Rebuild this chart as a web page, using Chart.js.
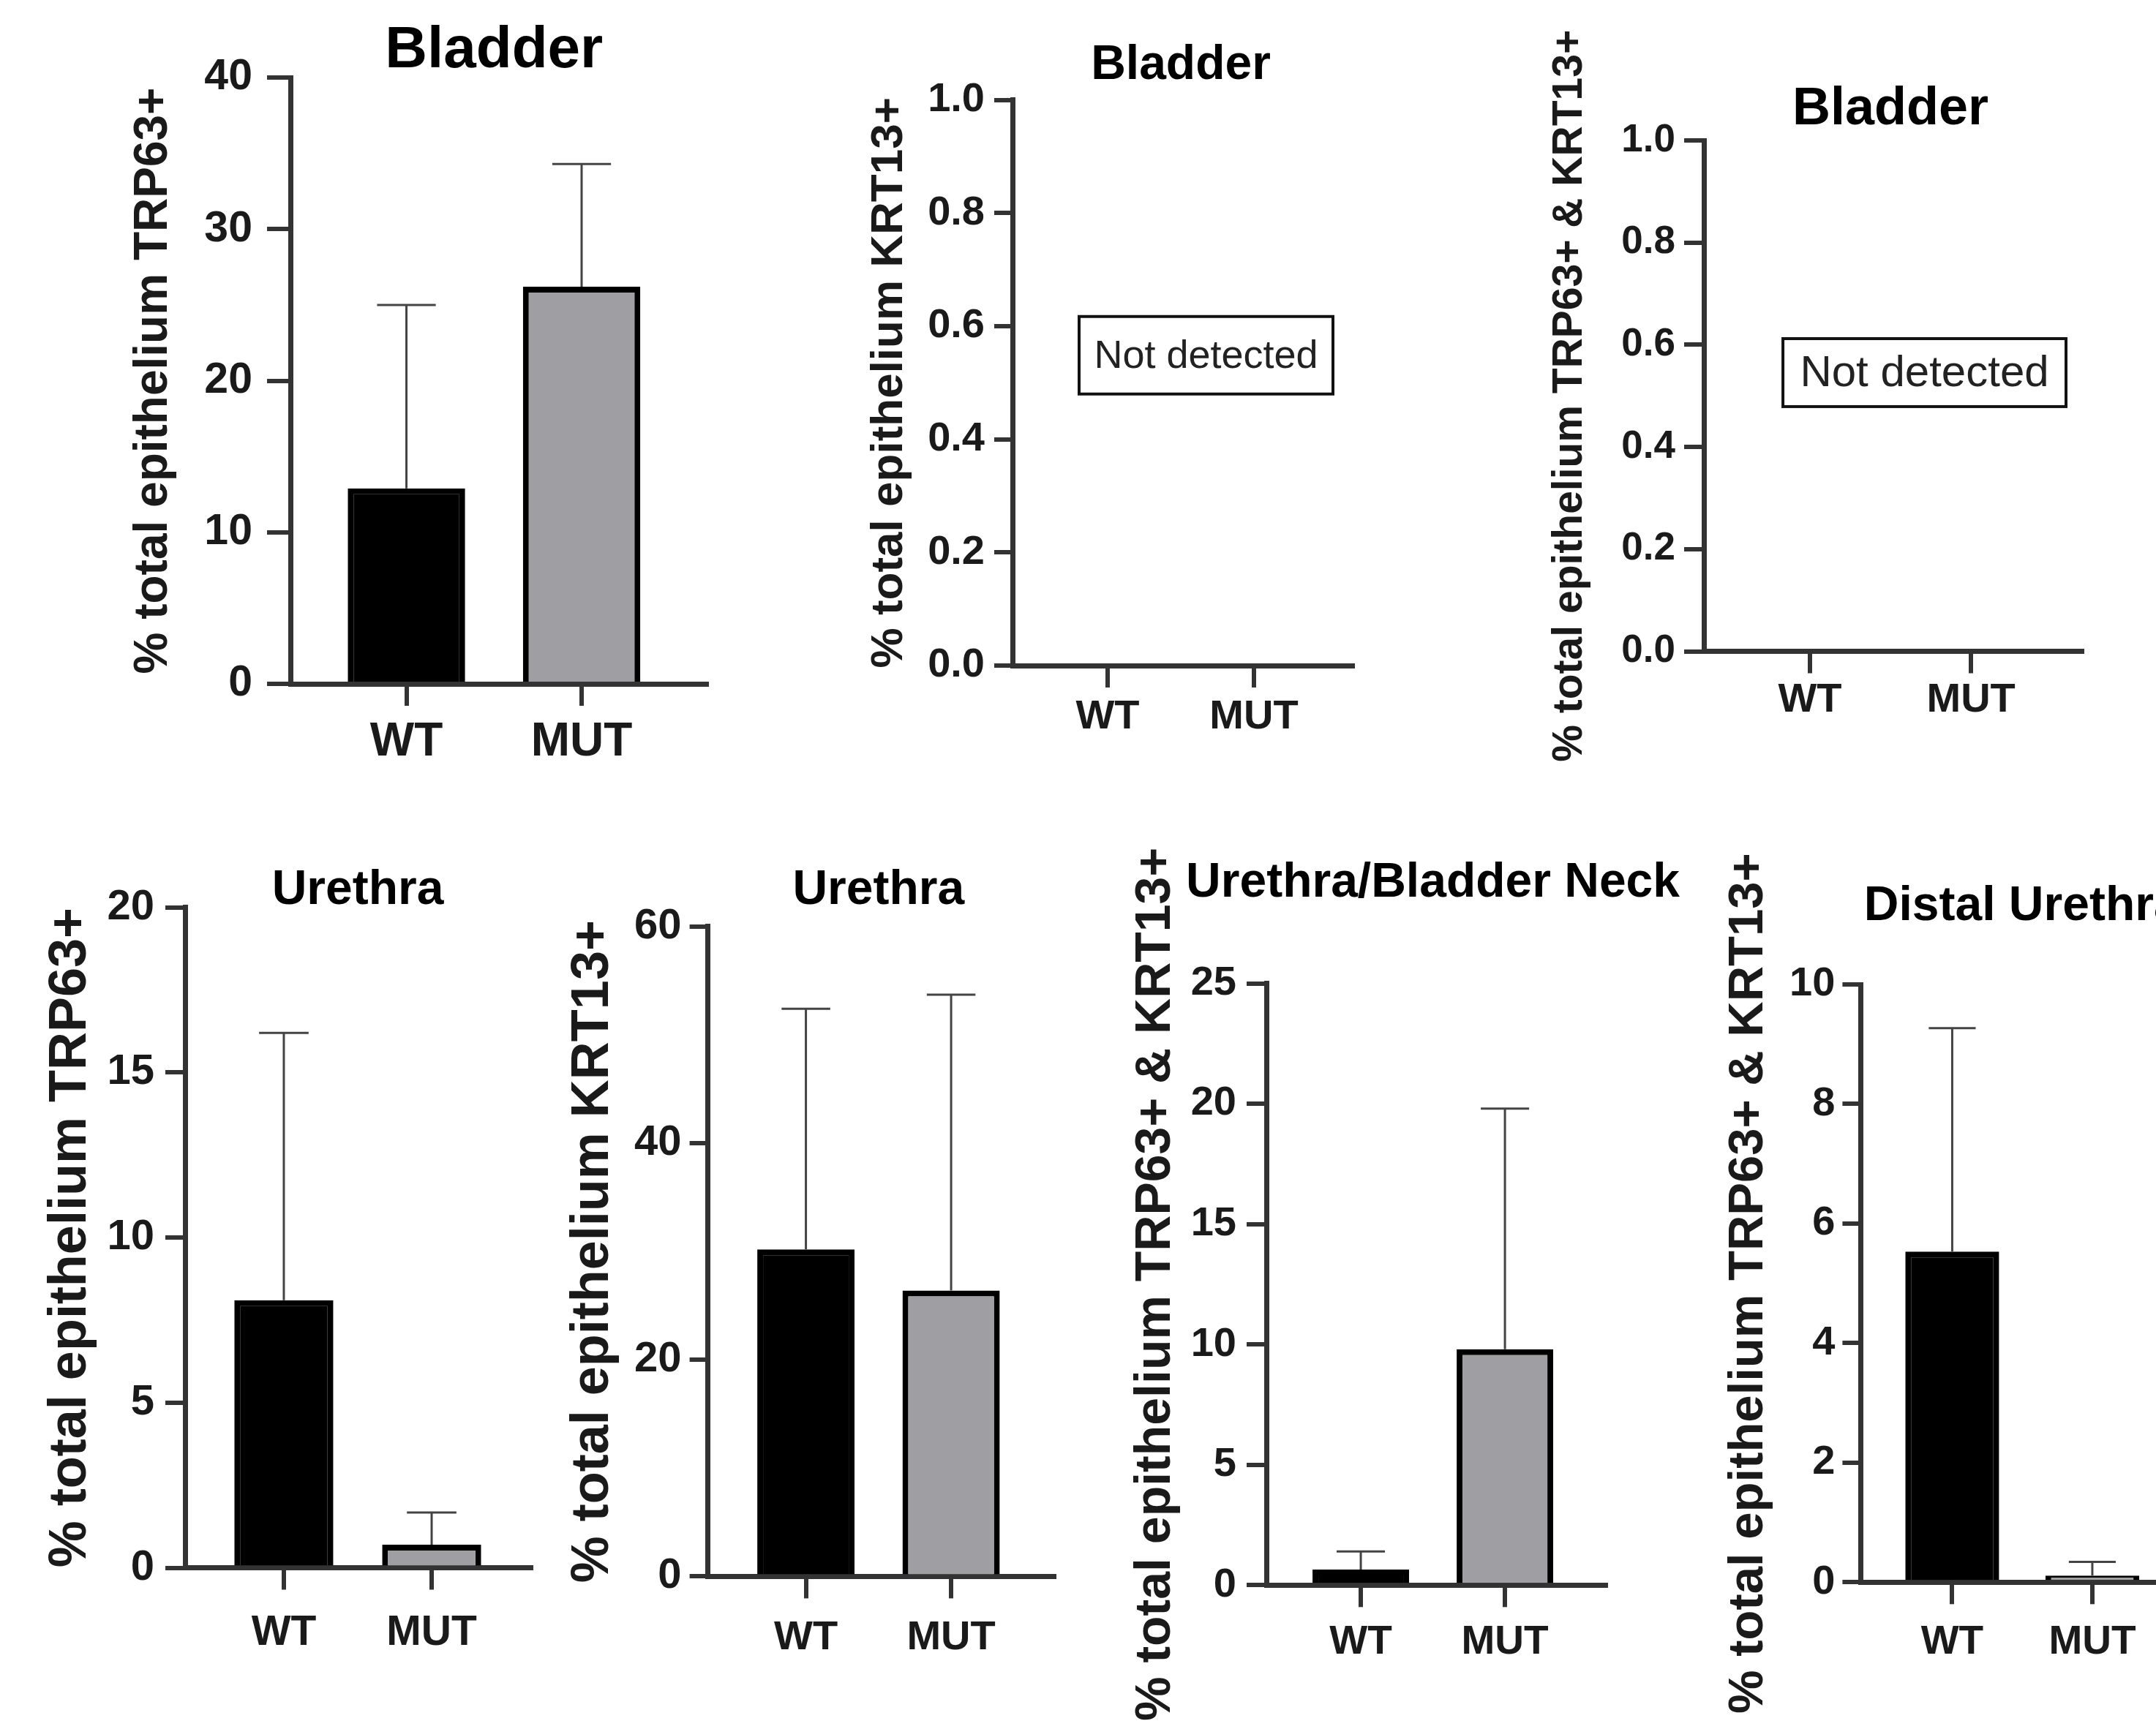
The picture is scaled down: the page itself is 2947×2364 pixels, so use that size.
<!DOCTYPE html>
<html>
<head>
<meta charset="utf-8">
<title>TRP63 / KRT13 in bladder and urethra epithelium</title>
<script src="https://cdn.jsdelivr.net/npm/chart.js@4.4.1/dist/chart.umd.min.js"></script>
<style>
  html, body { margin: 0; padding: 0; background: #ffffff; overflow: hidden; }
  body { width: 2947px; height: 2364px; position: relative; }
  .panel { position: absolute; }
</style>
</head>
<body>
<div class="panel"><canvas id="c1"></canvas></div>
<div class="panel"><canvas id="c2"></canvas></div>
<div class="panel"><canvas id="c3"></canvas></div>
<div class="panel"><canvas id="c4"></canvas></div>
<div class="panel"><canvas id="c5"></canvas></div>
<div class="panel"><canvas id="c6"></canvas></div>
<div class="panel"><canvas id="c7"></canvas></div>
<script>
// groups on every x axis
const groups = ['WT', 'MUT'];

// Bladder (mean, upper SD)
const bladderTrp63 = [12.9, 26.2];
const bladderTrp63Sd = [12.1, 8.1];
const bladderKrt13 = [null, null];   // not detected
const bladderKrt13Sd = [null, null];
const bladderBoth = [null, null];    // not detected
const bladderBothSd = [null, null];

// Urethra
const urethraTrp63 = [8.1, 0.7];
const urethraTrp63Sd = [8.1, 0.97];
const urethraKrt13 = [30.2, 26.4];
const urethraKrt13Sd = [22.2, 27.3];

// TRP63+ & KRT13+ double positive
const neckBoth = [0.65, 9.8];
const neckBothSd = [0.75, 10.0];
const distalBoth = [5.53, 0.11];
const distalBothSd = [3.74, 0.23];

const barColors = ['#000000', '#9e9ea3'];
const axisColor = '#333333';
const textColor = '#1a1a1a';
const fontFamily = "'Liberation Sans', Arial, sans-serif";

const labelTrp63 = '% total epithelium TRP63+';
const labelKrt13 = '% total epithelium KRT13+';
const labelBoth = '% total epithelium TRP63+ & KRT13+';

Chart.defaults.font.family = fontFamily;

// panel layout, page pixels
const panels = [
    { id: 'c1', box: [140, 0, 1010, 1100], title: 'Bladder', titleSize: 80, titleY: 70,
      yLabel: labelTrp63, yLabelSize: 64, yLabelX: 210,
      axisX: 397, top: 106, zero: 935, right: 966, xMin: 0.338, xMax: 2.714,
      yMax: 40, step: 10, digits: 0, tickSize: 59, tickLen: 32, tickPad: 20,
      xLabelSize: 64, xLabelY: 1015, values: bladderTrp63, sd: bladderTrp63Sd },
    { id: 'c2', box: [1146, 0, 1890, 1100], title: 'Bladder', titleSize: 66, titleY: 90,
      yLabel: labelKrt13, yLabelSize: 62, yLabelX: 1216,
      axisX: 1384, top: 136.5, zero: 910, right: 1849, xMin: 0.35, xMax: 2.675,
      yMax: 1, step: 0.2, digits: 1, tickSize: 56, tickLen: 25, tickPad: 13,
      xLabelSize: 56, xLabelY: 981, values: bladderKrt13, sd: bladderKrt13Sd,
      note: { text: 'Not detected', x0: 0.805, x1: 2.54, y0: 0.48, y1: 0.617, size: 54 } },
    { id: 'c3', box: [2076, 0, 2947, 1100], title: 'Bladder', titleSize: 72, titleY: 150,
      yLabel: labelBoth, yLabelSize: 57, yLabelX: 2146,
      axisX: 2329, top: 192, zero: 890.5, right: 2846, xMin: 0.341, xMax: 2.69,
      yMax: 1, step: 0.2, digits: 1, tickSize: 53, tickLen: 27, tickPad: 12,
      xLabelSize: 56, xLabelY: 958, values: bladderBoth, sd: bladderBothSd,
      note: { text: 'Not detected', x0: 0.832, x1: 2.59, y0: 0.479, y1: 0.612, size: 60 } },
    { id: 'c4', box: [27, 1130, 750, 2364], title: 'Urethra', titleSize: 66, titleY: 1218,
      yLabel: labelTrp63, yLabelSize: 72, yLabelX: 97,
      axisX: 253, top: 1240.6, zero: 2143.5, right: 726, xMin: 0.332, xMax: 2.673,
      yMax: 20, step: 5, digits: 0, tickSize: 58, tickLen: 27, tickPad: 15,
      xLabelSize: 57, xLabelY: 2233, values: urethraTrp63, sd: urethraTrp63Sd },
    { id: 'c5', box: [741, 1130, 1480, 2364], title: 'Urethra', titleSize: 66, titleY: 1218,
      yLabel: labelKrt13, yLabelSize: 72, yLabelX: 811,
      axisX: 967.6, top: 1266.8, zero: 2155.4, right: 1441, xMin: 0.325, xMax: 2.71,
      yMax: 60, step: 20, digits: 0, tickSize: 58, tickLen: 25, tickPad: 11,
      xLabelSize: 56, xLabelY: 2240, values: urethraKrt13, sd: urethraKrt13Sd },
    { id: 'c6', box: [1510, 1130, 2310, 2364], title: 'Urethra/Bladder Neck', titleSize: 66, titleY: 1208,
      yLabel: labelBoth, yLabelSize: 68, yLabelX: 1580,
      axisX: 1731, top: 1344.5, zero: 2167.3, right: 2195, xMin: 0.345, xMax: 2.70,
      yMax: 25, step: 5, digits: 0, tickSize: 56, tickLen: 27, tickPad: 14,
      xLabelSize: 55, xLabelY: 2246, values: neckBoth, sd: neckBothSd },
    { id: 'c7', box: [2323, 1130, 3030, 2364], title: 'Distal Urethra', titleSize: 66, titleY: 1240,
      yLabel: labelBoth, yLabelSize: 67, yLabelX: 2391,
      axisX: 2543.4, top: 1346, zero: 2163.3, right: 2994, xMin: 0.347, xMax: 2.7,
      yMax: 10, step: 2, digits: 0, tickSize: 56, tickLen: 25, tickPad: 10,
      xLabelSize: 55, xLabelY: 2246, values: distalBoth, sd: distalBothSd }
];

// titles, y labels, error bars and "Not detected" boxes
const panelDecor = {
    id: 'panelDecor',
    afterDatasetsDraw(chart, args, opts) {
        const ctx = chart.ctx;
        const y = chart.scales.y;
        const sd = opts.sd || [];
        const meta = chart.getDatasetMeta(0);
        ctx.save();
        ctx.strokeStyle = '#444444';
        ctx.lineWidth = 3;
        meta.data.forEach((bar, i) => {
            const v = chart.data.datasets[0].data[i].y;
            if (v === null || sd[i] === null || sd[i] === undefined) return;
            const top = y.getPixelForValue(v + sd[i]);
            const half = bar.width / 4;
            ctx.beginPath();
            ctx.moveTo(bar.x, bar.y);
            ctx.lineTo(bar.x, top);
            ctx.moveTo(bar.x - half, top);
            ctx.lineTo(bar.x + half, top);
            ctx.stroke();
        });
        ctx.restore();
    },
    afterDraw(chart, args, opts) {
        const ctx = chart.ctx;
        const area = chart.chartArea;
        const x = chart.scales.x;
        const y = chart.scales.y;
        ctx.save();
        ctx.fillStyle = '#000000';
        ctx.textAlign = 'center';
        ctx.textBaseline = 'middle';
        ctx.font = `bold ${opts.titleSize}px ${fontFamily}`;
        ctx.fillText(opts.title, x.getPixelForValue(1.5), opts.titleY);

        ctx.fillStyle = textColor;
        ctx.font = `bold ${opts.yLabelSize}px ${fontFamily}`;
        ctx.translate(opts.yLabelX, (area.top + area.bottom) / 2);
        ctx.rotate(-Math.PI / 2);
        ctx.fillText(opts.yLabel, 0, 0);
        ctx.restore();

        const note = opts.note;
        if (note) {
            const l = x.getPixelForValue(note.x0);
            const r = x.getPixelForValue(note.x1);
            const t = y.getPixelForValue(note.y1);
            const b = y.getPixelForValue(note.y0);
            ctx.save();
            ctx.strokeStyle = '#111111';
            ctx.lineWidth = 4;
            ctx.strokeRect(l, t, r - l, b - t);
            ctx.fillStyle = '#222222';
            ctx.font = `${note.size}px ${fontFamily}`;
            ctx.textAlign = 'center';
            ctx.textBaseline = 'middle';
            ctx.fillText(note.text, (l + r) / 2, (t + b) / 2 + 2);
            ctx.restore();
        }
    }
};

function makeChart(p) {
    const [bl, bt, br, bb] = p.box;
    const canvas = document.getElementById(p.id);
    const wrap = canvas.parentNode;
    wrap.style.left = bl + 'px';
    wrap.style.top = bt + 'px';
    wrap.style.width = (br - bl) + 'px';
    wrap.style.height = (bb - bt) + 'px';
    const xTickLen = 30;

    new Chart(canvas, {
        type: 'bar',
        data: {
            datasets: [{
                data: p.values.map((v, i) => ({ x: i + 1, y: v })),
                backgroundColor: barColors,
                borderColor: '#000000',
                borderWidth: 8,
                borderSkipped: 'start',
                barPercentage: 0.67,
                categoryPercentage: 1
            }]
        },
        options: {
            responsive: true,
            maintainAspectRatio: false,
            animation: false,
            events: [],
            layout: { padding: { left: 0, top: p.top - bt, right: br - p.right, bottom: 0 } },
            plugins: {
                legend: { display: false },
                tooltip: { enabled: false },
                panelDecor: {
                    title: p.title, titleSize: p.titleSize, titleY: p.titleY - bt,
                    yLabel: p.yLabel, yLabelSize: p.yLabelSize, yLabelX: p.yLabelX - bl,
                    sd: p.sd, note: p.note
                }
            },
            scales: {
                x: {
                    type: 'linear',
                    bounds: 'data',
                    min: p.xMin,
                    max: p.xMax,
                    offset: false,
                    afterBuildTicks: s => { s.ticks = groups.map((g, i) => ({ value: i + 1 })); },
                    afterFit: s => { s.height = bb - p.zero; },
                    grid: { offset: false, drawOnChartArea: false, drawTicks: true, tickLength: xTickLen, lineWidth: 6, color: axisColor },
                    border: { display: true, width: 7, color: axisColor },
                    ticks: {
                        autoSkip: false,
                        maxRotation: 0,
                        padding: p.xLabelY - p.zero - xTickLen - 0.6 * p.xLabelSize,
                        color: textColor,
                        font: { size: p.xLabelSize, weight: 'bold' },
                        callback: v => groups[Math.round(v) - 1]
                    }
                },
                y: {
                    min: 0,
                    max: p.yMax,
                    afterFit: s => { s.width = p.axisX - bl; },
                    grid: { drawOnChartArea: false, drawTicks: true, tickLength: p.tickLen, lineWidth: 6, color: axisColor },
                    border: { display: true, width: 7, color: axisColor },
                    ticks: {
                        stepSize: p.step,
                        padding: p.tickPad,
                        color: textColor,
                        font: { size: p.tickSize, weight: 'bold' },
                        callback: v => v.toFixed(p.digits)
                    }
                }
            }
        },
        plugins: [panelDecor]
    });
}

panels.forEach(makeChart);
</script>
</body>
</html>
